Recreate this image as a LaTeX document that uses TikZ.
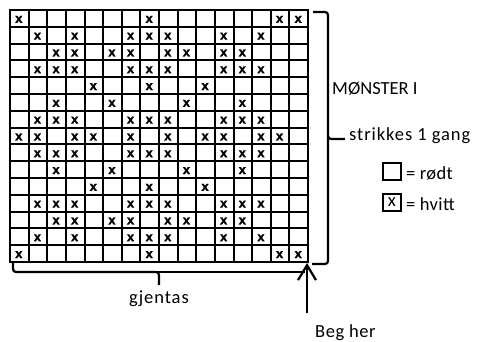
\documentclass[tikz,border=0pt]{standalone}
\usepackage{fontspec}
\setmainfont{Carlito}
\newfontfamily\xmarkfont[FakeBold=1.5]{Liberation Sans Bold}
\usetikzlibrary{arrows.meta}
\tikzset{
  gridline/.style={line width=2pt, line cap=rect},
  xmark/.style={font=\xmarkfont\fontsize{13}{13}\selectfont, inner sep=0pt},
  lbl/.style={font=\fontsize{18.5}{20}\selectfont, inner sep=0pt},
  bracepath/.style={line width=2.2pt, rounded corners=3pt},
  legendbox/.style={draw, line width=2pt, minimum width=18pt, minimum height=17pt, inner sep=0pt, font=\fontsize{18.5}{20}\selectfont},
  arrowline/.style={line width=2.4pt, -{Straight Barb[length=15pt,width=18pt,line width=2.2pt]}}
}
\begin{document}
\begin{tikzpicture}[x=1pt,y=-1pt]
\useasboundingbox (0,0) rectangle (479,342);
% grid lines
\foreach \i in {0,...,16} \draw[gridline] (10+\i*18.625,10) -- (10+\i*18.625,262);
\foreach \j in {0,...,15} \draw[gridline] (10,10+\j*16.8) -- (308,10+\j*16.8);
\coordinate (gridSE) at (307,263);
% x marks
\foreach \r/\cols in {
  1/{1,8,15,16},
  2/{2,4,7,8,9,12,14},
  3/{3,4,6,7,9,10,12,13},
  4/{2,3,4,7,8,9,12,13,14},
  5/{5,8,11},
  6/{3,6,10,13},
  7/{2,3,4,7,8,9,12,13,14},
  8/{1,2,4,5,7,9,11,12,14,15},
  9/{2,3,4,7,8,9,12,13,14},
  10/{3,6,10,13},
  11/{5,8,11},
  12/{2,3,4,7,8,9,12,13,14},
  13/{3,4,6,7,9,10,12,13},
  14/{2,4,7,8,9,12,14},
  15/{1,8,15,16}}
  \foreach \c in \cols
    \node[xmark] (x\r-\c) at (9.5+\c*18.625-9.3, 10+\r*16.8-8.4+1) {x};
% right brace
\draw[bracepath] (313,12) -- (328,12) -- (328,139) -- (345,139);
\draw[bracepath] (328,136) -- (328,264) -- (312,264);
% bottom brace
\draw[bracepath] (13,263) -- (13,272) -- (159,272) -- (159,285);
\draw[bracepath] (156,272) -- (305,272);
% labels
\node[lbl, anchor=base west] (monster) at (332,95) {MØNSTER I};
\node[lbl, anchor=base west] (strikkes) at (349,140) {\addfontfeature{LetterSpace=5}strikkes 1 gang};
\node[legendbox] (boxr) at (392,171.5) {};
\node[legendbox] (boxh) at (392,202.5) {x};
\node[lbl, anchor=base west] (rodt) at (406,179) {\addfontfeature{LetterSpace=2}= rødt};
\node[lbl, anchor=base west] (hvitt) at (406,210) {\addfontfeature{LetterSpace=2}= hvitt};
\node[lbl, anchor=base] (gjentas) at (159,303) {\addfontfeature{LetterSpace=5}gjentas};
\node[lbl, anchor=base west] (beg) at (315,337) {\addfontfeature{LetterSpace=3}Beg her};
% arrow
\coordinate (arrowstart) at (307,313);
\draw[arrowline] (arrowstart) -- (gridSE);
\end{tikzpicture}
\end{document}
